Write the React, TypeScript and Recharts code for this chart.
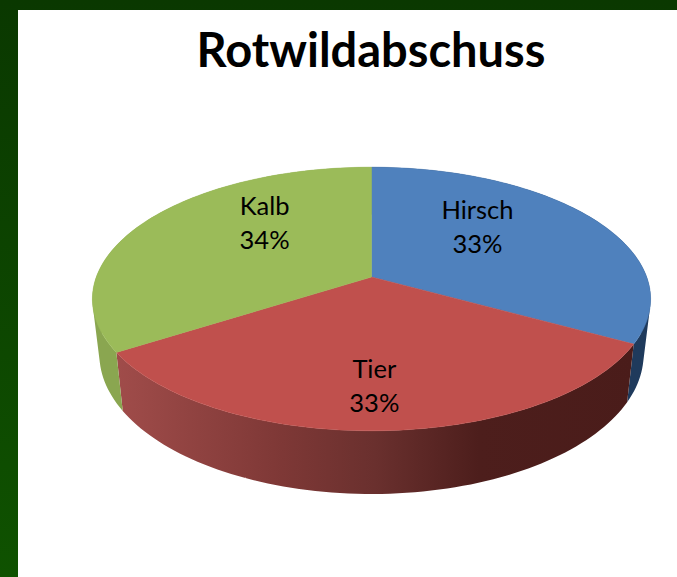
import React from "react";
import { PieChart, Pie } from "recharts";

const names = ["Hirsch", "Tier", "Kalb"];
const shares = [33, 33, 34];
const topColors = ["#4F81BD", "#C0504D", "#9BBB59"];
const wallFills = ["#1F3A5C", "url(#redWall)", "#8AA650"];
const titleText = "Rotwildabschuss";
const labelNudgeX = [1, -1, 0];
const labelNudgeY = [4, 0, -3];

const rows = names.map((name, i) => ({ name, value: shares[i], idx: i }));

const KEEP = 1 / 6;
const FLAT = 128.33 / 275.6;

function project(cx: number, cy: number, r: number, deg: number, sx = 1, sy = 1, dy = 0) {
  const a = (deg * Math.PI) / 180;
  const u = Math.cos(a);
  const v = Math.sin(a);
  const d = 1 + KEEP * v;
  return [cx + (sx * r * u) / d, cy + dy - (sy * FLAT * r * v) / d];
}

function arc(cx: number, cy: number, r: number, from: number, to: number, sx = 1, sy = 1, dy = 0) {
  const n = Math.max(2, Math.ceil(Math.abs(to - from) / 1.5));
  const pts: number[][] = [];
  for (let i = 0; i <= n; i++) pts.push(project(cx, cy, r, from + ((to - from) * i) / n, sx, sy, dy));
  return pts;
}

const toPath = (pts: number[][]) =>
  "M" + pts.map((p) => `${p[0].toFixed(2)},${p[1].toFixed(2)}`).join("L") + "Z";

// same winding for every quad, so overlapping quads never cancel under nonzero fill
function wound(pts: number[][]) {
  let area = 0;
  pts.forEach((p, i) => {
    const q = pts[(i + 1) % pts.length];
    area += p[0] * q[1] - q[0] * p[1];
  });
  return area < 0 ? [...pts].reverse() : pts;
}

function TopFace(p: any) {
  const pts = [[p.cx, p.cy], ...arc(p.cx, p.cy, p.outerRadius, p.startAngle, p.endAngle)];
  return <path d={toPath(pts)} fill={topColors[p.idx]} stroke={topColors[p.idx]} strokeWidth={0.5} />;
}

function Wall(p: any) {
  const upper = arc(p.cx, p.cy, p.outerRadius, p.startAngle, p.endAngle);
  const lower = arc(p.cx, p.cy, p.outerRadius, p.startAngle, p.endAngle, 0.975, 1.06, 54);
  const d = upper
    .slice(0, -1)
    .map((q, i) => toPath(wound([q, upper[i + 1], lower[i + 1], lower[i]])))
    .join("");
  return <path d={d} fill={wallFills[p.idx]} fillRule="nonzero" />;
}

function SliceLabel(p: any) {
  const a = (p.midAngle * Math.PI) / 180;
  const x = p.cx + 122 * Math.cos(a) + labelNudgeX[p.index];
  const y = p.cy - 108 * Math.sin(a) + labelNudgeY[p.index];
  const style = { fontFamily: "Lato, Carlito, sans-serif", fontSize: 25.5, fill: "#000" };
  return (
    <g>
      <text x={x} y={y - 17} textAnchor="middle" dominantBaseline="central" style={style}>{p.name}</text>
      <text x={x} y={y + 17} textAnchor="middle" dominantBaseline="central" style={style}>{`${Math.round(p.percent * 100)}%`}</text>
    </g>
  );
}

export default function App() {
  return (
    <div style={{ position: "absolute", left: 0, top: 0, width: 677, height: 577, overflow: "hidden", background: "linear-gradient(180deg,#0A3800 0%,#0F5200 100%)" }}>
      <div style={{ position: "absolute", left: 18, top: 10, width: 659, height: 567, background: "#fff" }} />
      <div style={{ position: "absolute", left: 0, top: 0 }}>
        <PieChart width={677} height={577} margin={{ top: 0, right: 0, bottom: 0, left: 0 }}>
          <defs>
            <linearGradient id="redWall" x1="0" y1="0" x2="1" y2="0">
              <stop offset="0%" stopColor="#A04C4A" />
              <stop offset="32%" stopColor="#7E3836" />
              <stop offset="50%" stopColor="#6A302E" />
              <stop offset="70%" stopColor="#4D1E1C" />
              <stop offset="100%" stopColor="#4A1C1A" />
            </linearGradient>
          </defs>
          <text x={371} y={49} textAnchor="middle" dominantBaseline="central" style={{ fontFamily: "Lato, sans-serif", fontWeight: 700, fontSize: 47, fill: "#000" }}>{titleText}</text>
          <Pie data={rows} dataKey="value" nameKey="name" cx={371.5} cy={277} outerRadius={275.2} startAngle={90} endAngle={-270} stroke="none" isAnimationActive={false} shape={Wall} />
          <Pie data={rows} dataKey="value" nameKey="name" cx={371.5} cy={277} outerRadius={275.2} startAngle={90} endAngle={-270} stroke="none" isAnimationActive={false} shape={TopFace} labelLine={false} label={SliceLabel} />
        </PieChart>
      </div>
    </div>
  );
}
